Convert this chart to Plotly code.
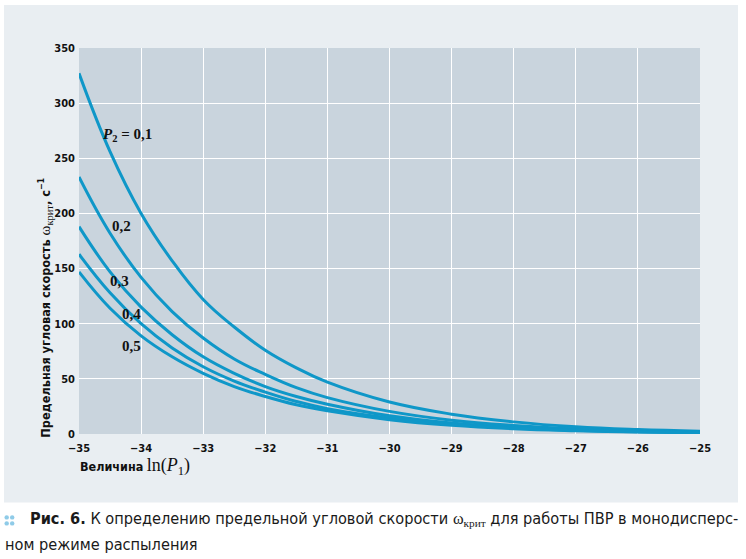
import plotly.graph_objects as go

x_ln_p1 = [-35, -34.5, -34, -33.5, -33, -32.5, -32, -31.5, -31, -30, -29, -28, -27, -26, -25]
w_p2_01 = [327, 256, 200, 157, 122, 97, 76, 60, 47, 29, 18, 11, 6.5, 4.0, 2.5]
w_p2_02 = [233, 182, 142, 111, 87, 68, 54, 42, 33, 20.5, 12.5, 7.7, 4.7, 2.9, 1.8]
w_p2_03 = [188, 147, 115, 90, 70, 55, 43, 34, 27, 16.5, 10, 6.2, 3.8, 2.3, 1.5]
w_p2_04 = [163, 128, 100, 78, 61, 48, 38, 29.5, 23, 14.5, 8.8, 5.4, 3.3, 2.0, 1.3]
w_p2_05 = [147, 114, 89, 70, 55, 43, 34, 26.5, 21, 13, 7.9, 4.8, 3.0, 1.8, 1.1]
series = [w_p2_01, w_p2_02, w_p2_03, w_p2_04, w_p2_05]

curve_labels = ["<i>P</i><sub>2</sub> = 0,1", "0,2", "0,3", "0,4", "0,5"]
label_x = [-34.22, -34.32, -34.34, -34.15, -34.15]
label_y = [271, 189, 139, 109, 80]

x_ticks = list(range(-35, -24))
y_ticks = [0, 50, 100, 150, 200, 250, 300, 350]

LINE = "#0f97c8"
COND = "DejaVu Sans Condensed, Liberation Sans Narrow, sans-serif"
SERIF = "Liberation Serif, DejaVu Serif, serif"

W_PLOT = 621.0
H_PLOT = 386.5
def px(x):
    return (x - 79) / W_PLOT
def py(y):
    return (434.5 - y) / H_PLOT

fig = go.Figure()
for vals in series:
    fig.add_trace(go.Scatter(x=x_ln_p1, y=vals, mode="lines",
                             line=dict(color=LINE, width=3, shape="spline", smoothing=1.2),
                             hoverinfo="skip", showlegend=False))

for t, lx, ly in zip(curve_labels, label_x, label_y):
    fig.add_annotation(x=lx, y=ly, text="<b>" + t + "</b>", showarrow=False,
                       font=dict(family=SERIF, size=15, color="#111111"),
                       xanchor="center", yanchor="middle")

# outer panel and plot area background
fig.add_shape(type="rect", xref="paper", yref="paper", layer="below",
              x0=px(4), x1=px(738), y0=py(503), y1=py(5),
              fillcolor="#e9eef2", line=dict(width=0))
fig.add_shape(type="rect", xref="paper", yref="paper", layer="below",
              x0=0, x1=1, y0=0, y1=1,
              fillcolor="#c9d4dd", line=dict(width=0))

# y axis title
fig.add_annotation(xref="paper", yref="paper", x=px(45), y=py(308),
                   xanchor="center", yanchor="middle", showarrow=False, textangle=-90,
                   text="<b>Предельная угловая скорость </b>"
                        "<span style='font-family:Liberation Serif;font-size:15px'>ω<sub>крит</sub></span><b>, с<sup>−1</sup></b>",
                   font=dict(family=COND, size=12.6, color="#111111"))

# x axis title
fig.add_annotation(xref="paper", yref="paper", x=px(78), y=py(467),
                   xanchor="left", yanchor="middle", showarrow=False,
                   text="<span style='font-family:DejaVu Sans Condensed;font-size:12.5px'><b>Величина</b></span> "
                        "<span style='font-family:Liberation Serif;font-size:18px'>ln(<i>P</i><sub>1</sub>)</span>",
                   font=dict(color="#111111"))

# caption marker dots
for cx in (6.7, 12.2):
    for cy in (518, 524):
        fig.add_shape(type="circle", xref="paper", yref="paper",
                      x0=px(cx - 2.2), x1=px(cx + 2.2), y0=py(cy + 2.2), y1=py(cy - 2.2),
                      fillcolor="#8fcbe8", line=dict(width=0))

fig.add_annotation(xref="paper", yref="paper", x=px(28), y=py(520),
                   xanchor="left", yanchor="middle", showarrow=False,
                   text="<b>Рис. 6.</b> К определению предельной угловой скорости "
                        "<span style='font-family:Liberation Serif'>ω<sub>крит</sub></span> для работы ПВР в монодисперс-",
                   font=dict(family=COND, size=16.2, color="#1a1a1a"))
fig.add_annotation(xref="paper", yref="paper", x=px(3), y=py(545),
                   xanchor="left", yanchor="middle", showarrow=False,
                   text="ном режиме распыления",
                   font=dict(family=COND, size=16.2, color="#1a1a1a"))

fig.update_layout(
    width=746, height=559,
    margin=dict(l=79, r=46, t=48, b=124.5),
    paper_bgcolor="white", plot_bgcolor="#c9d4dd",
    font=dict(family=COND, color="#111111"),
    xaxis=dict(range=[-35, -25], tickvals=x_ticks, ticktext=["<b>−%d</b>" % -v for v in x_ticks],
               showgrid=True, gridcolor="white", gridwidth=1.3, zeroline=False,
               showline=False, ticks="", ticklabelstandoff=6,
               tickfont=dict(family=COND, size=11, color="#111111")),
    yaxis=dict(range=[0, 350], tickvals=y_ticks, ticktext=["<b>%d</b>" % v for v in y_ticks],
               showgrid=True, gridcolor="white", gridwidth=1.3, zeroline=False,
               showline=False, ticks="", ticklabelstandoff=3,
               tickfont=dict(family=COND, size=11, color="#111111")),
)

fig.write_html("out.html", config={"displayModeBar": False},
               post_script="document.body.style.margin='0px';document.body.style.overflow='hidden';")
